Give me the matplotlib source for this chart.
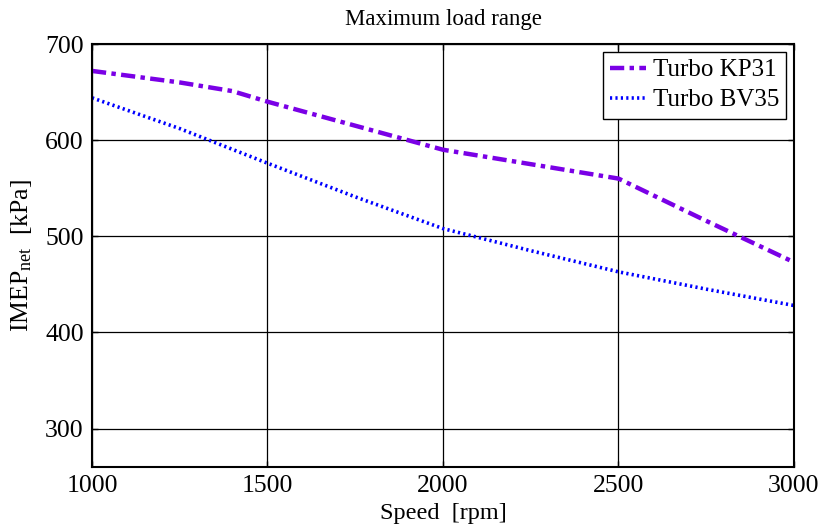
import matplotlib
matplotlib.use("Agg")
import matplotlib.pyplot as plt

# data
speed_kp31 = [1000, 1250, 1400, 1500, 1750, 2000, 2250, 2500, 2750, 3000]
imep_kp31 = [672, 660, 651, 640, 615, 590, 575, 560, 516, 473]

speed_bv35 = [1000, 1250, 1500, 1750, 2000, 2250, 2500, 2750, 3000]
imep_bv35 = [644, 612, 576, 541, 508, 485, 463, 445, 428]

x_ticks = [1000, 1500, 2000, 2500, 3000]
y_ticks = [300, 400, 500, 600, 700]

plt.rcParams["font.family"] = ["Liberation Serif", "DejaVu Serif"]
plt.rcParams["mathtext.fontset"] = "custom"
plt.rcParams["mathtext.rm"] = "Liberation Serif"
plt.rcParams["mathtext.it"] = "Liberation Serif"

fig = plt.figure(figsize=(8.24, 5.30), dpi=100)
ax = fig.add_axes([92 / 824, 1 - 467 / 530, 702 / 824, 423 / 530])

ax.plot(speed_kp31, imep_kp31, color="#7A00E6", linestyle=(0, (3.2, 1.2, 1.0, 1.2)),
        linewidth=3.2, label="Turbo KP31")
ax.plot(speed_bv35, imep_bv35, color="#0000FF", linestyle=(0, (0.6, 0.9)),
        linewidth=2.6, label="Turbo BV35")

ax.set_xlim(1000, 3000)
ax.set_ylim(260, 700)
ax.set_xticks(x_ticks)
ax.set_yticks(y_ticks)
ax.grid(True, color="black", linewidth=0.9)
ax.tick_params(direction="in", length=4, width=1, top=True, right=True,
               labelsize=18.5, pad=6)
for s in ax.spines.values():
    s.set_linewidth(1.5)

ax.set_title("Maximum load range", fontsize=16.5, pad=14)
ax.set_xlabel("Speed  [rpm]", fontsize=17.5, labelpad=4)
ax.set_ylabel(r"IMEP$_\mathrm{net}$  [kPa]", fontsize=18.5, labelpad=8)

leg = ax.legend(loc="upper right", fontsize=18, frameon=True, fancybox=False,
                edgecolor="black", handlelength=1.45, handletextpad=0.25,
                borderpad=0.3, labelspacing=0.3, borderaxespad=0.3)
leg.get_frame().set_linewidth(1.0)
leg.get_frame().set_alpha(1)

fig.savefig("out.png", dpi=100)
